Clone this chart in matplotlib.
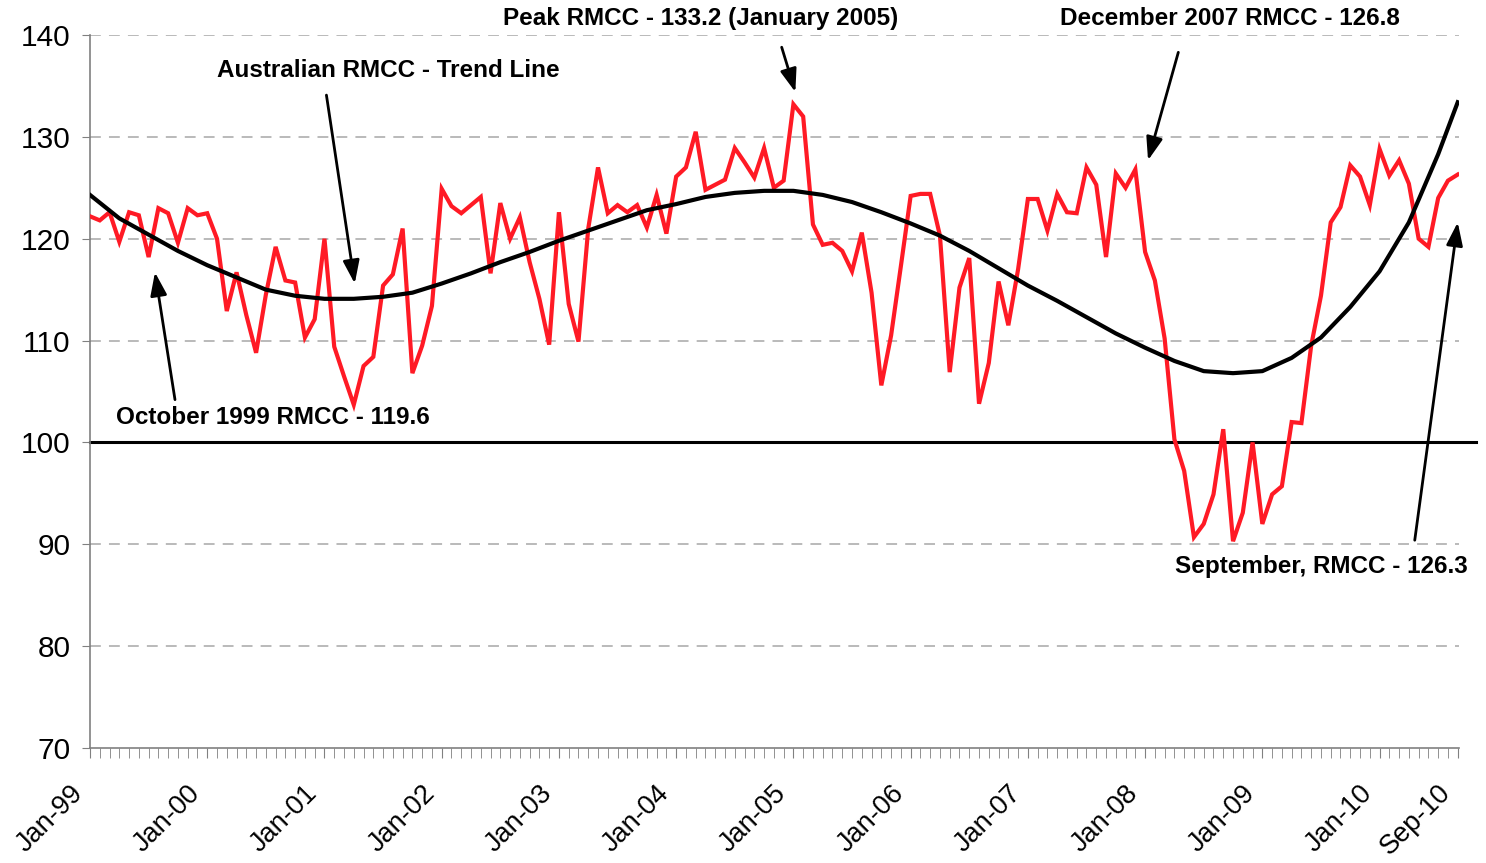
import numpy as np
import matplotlib
matplotlib.use('Agg')
import matplotlib.pyplot as plt
from matplotlib.transforms import ScaledTranslation

plt.rcParams['font.family'] = ['Liberation Sans', 'DejaVu Sans']

# monthly RMCC, Jan-99 .. Sep-10
rmcc = [122.2, 121.8, 122.6, 119.7, 122.6, 122.3, 118.2, 123.0, 122.5, 119.6, 123.0, 122.3,
        122.5, 120.0, 112.9, 116.7, 112.5, 108.8, 114.5, 119.2, 115.9, 115.7, 110.3, 112.1,
        120.0, 109.4, 106.5, 103.7, 107.5, 108.4, 115.4, 116.5, 121.0, 106.8, 109.5, 113.4,
        124.9, 123.2, 122.5, 123.3, 124.1, 116.6, 123.5, 120.0, 122.1, 117.7, 114.1, 109.6,
        122.6, 113.6, 109.9, 121.0, 127.0, 122.5, 123.3, 122.6, 123.3, 121.1, 124.3, 120.5,
        126.1, 127.0, 130.5, 124.8, 125.3, 125.8, 128.9, 127.5, 126.0, 128.9, 125.0, 125.7,
        133.2, 132.0, 121.4, 119.4, 119.6, 118.8, 116.8, 120.6, 114.7, 105.6, 110.5, 117.3,
        124.2, 124.4, 124.4, 120.3, 106.9, 115.2, 118.1, 103.8, 107.8, 115.8, 111.5, 117.0,
        123.9, 123.9, 120.8, 124.4, 122.6, 122.5, 127.0, 125.3, 118.2, 126.4, 125.0, 126.8,
        118.7, 115.9, 110.2, 100.3, 97.2, 90.7, 92.0, 94.9, 101.3, 90.3, 93.1, 100.0,
        92.0, 94.9, 95.7, 102.0, 101.9, 109.5, 114.4, 121.6, 123.1, 127.2, 126.1, 123.3,
        128.8, 126.2, 127.7, 125.4, 120.0, 119.2, 124.0, 125.7, 126.3]

# trend line (month index, value)
trend_idx = [0, 3, 6, 9, 12, 15, 18, 21, 24, 27, 30, 33, 36, 39, 42, 45, 48, 51, 54, 57,
             60, 63, 66, 69, 72, 75, 78, 81, 84, 87, 90, 93, 96, 99, 102, 105, 108, 111,
             114, 117, 120, 123, 126, 129, 132, 135, 138, 140]
trend_vals = [124.3, 122.0, 120.4, 118.8, 117.4, 116.2, 115.0, 114.4, 114.1, 114.1, 114.3,
              114.7, 115.6, 116.6, 117.7, 118.7, 119.8, 120.8, 121.8, 122.8, 123.4, 124.1,
              124.5, 124.7, 124.7, 124.3, 123.6, 122.6, 121.5, 120.3, 118.8, 117.1, 115.4,
              113.9, 112.3, 110.7, 109.3, 108.0, 107.0, 106.8, 107.0, 108.3, 110.3, 113.3,
              116.8, 121.6, 128.3, 133.4]

tick_pos = [0, 12, 24, 36, 48, 60, 72, 84, 96, 108, 120, 132, 140]
tick_labels = ["Jan-99", "Jan-00", "Jan-01", "Jan-02", "Jan-03", "Jan-04", "Jan-05",
               "Jan-06", "Jan-07", "Jan-08", "Jan-09", "Jan-10", "Sep-10"]

fig = plt.figure(figsize=(14.86, 8.63), dpi=100)
ax = fig.add_axes([90 / 1486, 1 - 748 / 863, (1459 - 90) / 1486, (748 - 35) / 863])

x = np.arange(len(rmcc))
ax.set_xlim(0, 140.13)
ax.set_ylim(70, 140)

for v in range(80, 150, 10):
    if v != 100:
        ax.axhline(v, color='#b4b4b4', lw=1.3, ls=(0, (6, 4.5)), zorder=1)
ax.axhline(100, xmin=0, xmax=(1476 - 90) / (1459 - 90), color='black', lw=2.2,
           clip_on=False, zorder=2)

ax.plot(x, rmcc, color='#ff1a25', lw=3.0, zorder=3, solid_joinstyle='miter')
ax.plot(trend_idx, trend_vals, color='black', lw=3.0, zorder=4)

for s in ['top', 'right']:
    ax.spines[s].set_visible(False)
for s in ['left', 'bottom']:
    ax.spines[s].set_color('#808080')
    ax.spines[s].set_linewidth(1.2)

ax.set_yticks(range(70, 150, 10))
ax.tick_params(axis='y', labelsize=21.5, length=6, color='#808080', pad=8)
ax.set_xticks(x, minor=True)
ax.set_xticks(tick_pos)
ax.set_xticklabels(tick_labels, rotation=45, ha='right', va='top', rotation_mode='anchor')
ax.tick_params(axis='x', which='both', length=7, color='#808080', labelsize=19.5, pad=16)
shift = ScaledTranslation(-20 / 100, 0, fig.dpi_scale_trans)
for lab in ax.get_xticklabels():
    lab.set_transform(lab.get_transform() + shift)

bold = dict(fontsize=17.5, fontweight='bold', ha='center', va='center')
notes = [
    ("Peak RMCC - 133.2 (January 2005)", (62.5, 141.6), (70.8, 138.8), (72.2, 134.4)),
    ("December 2007 RMCC - 126.8", (116.7, 141.6), (111.4, 138.3), (108.3, 127.7)),
    ("Australian RMCC - Trend Line", (30.5, 136.5), (24.2, 134.1), (27.1, 115.6)),
    ("October 1999 RMCC - 119.6", (18.7, 102.4), (8.7, 104.2), (6.65, 116.7)),
    ("September, RMCC - 126.3", (126.0, 87.8), (135.6, 90.4), (140.0, 121.6)),
]
for label, txt_xy, tail, head in notes:
    ax.text(txt_xy[0], txt_xy[1], label, clip_on=False, zorder=6, **bold)
    ax.annotate('', xy=head, xytext=tail, annotation_clip=False, zorder=6,
                arrowprops=dict(arrowstyle='-|>,head_length=1.4,head_width=0.5',
                                color='black', lw=2.0, shrinkA=0, shrinkB=0,
                                mutation_scale=10))

fig.savefig('out.png', dpi=100)
